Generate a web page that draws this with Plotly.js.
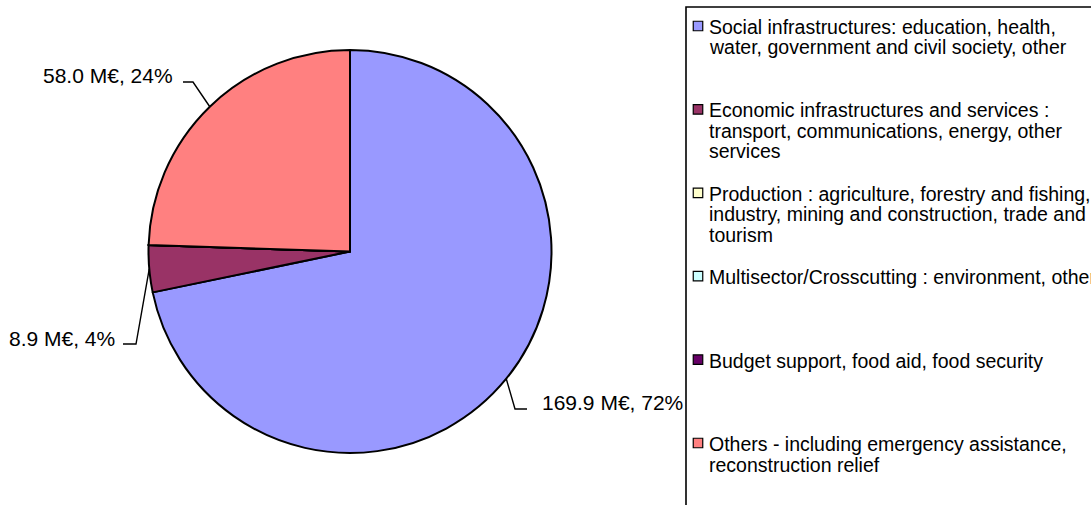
<!DOCTYPE html>
<html>
<head>
<meta charset="utf-8">
<script src="https://cdn.plot.ly/plotly-3.0.1.min.js"></script>
<style>
  html, body { margin: 0; padding: 0; background: #ffffff; }
  #chart { width: 1091px; height: 505px; }
</style>
</head>
<body>
<div id="chart"></div>
<script>
// ---- data ----
const categories = [
  "Social infrastructures: education, health,<br>water, government and civil society, other",
  "Economic infrastructures and services :<br>transport, communications, energy, other<br>services",
  "Production : agriculture, forestry and fishing,<br>industry, mining and construction, trade and<br>tourism",
  "Multisector/Crosscutting : environment, other",
  "Budget support, food aid, food security",
  "Others - including emergency assistance,<br>reconstruction relief"
];
const valuesMEUR = [169.9, 8.9, 0, 0, 0, 58.0];
const sliceColors = ["#9999FF", "#993366", "#FFFFCC", "#CCFFFF", "#660066", "#FF8080"];

// ---- layout constants (pixels) ----
const W = 1091, H = 505;
const pieBox = { x0: 148, x1: 552, y0: 50, y1: 453 };
// label placement: text anchor, elbow of the leader line, side
const labelPlace = {
  0: { tx: 540, ty: 402, ex: 515, ey: 409, hx: 527, side: "left" },
  1: { tx: 117, ty: 338, ex: 136, ey: 344, hx: 123, side: "right" },
  5: { tx: 175, ty: 75, ex: 193, ey: 82, hx: 183, side: "right" }
};
const legendBox = { x0: 686, y0: 7 };
const legendFirstY = 26, legendStep = 83.4, legendLineStep = 20.5;
const legendSymX = 698, legendSym = 9.5, legendTextX = 707;

const px = x => x / W;
const py = y => 1 - y / H;

const total = valuesMEUR.reduce((a, b) => a + b, 0);
const cx = (pieBox.x0 + pieBox.x1) / 2, cy = (pieBox.y0 + pieBox.y1) / 2;
const R = Math.min(pieBox.x1 - pieBox.x0, pieBox.y1 - pieBox.y0) / 2;

const annotations = [];
const shapes = [];

// data labels with leader lines, anchored at slice mid-angle on the rim
let cum = 0;
valuesMEUR.forEach((v, i) => {
  const mid = (cum + v / 2) / total * 2 * Math.PI;
  cum += v;
  if (!labelPlace[i] || v <= 0) return;
  const p = labelPlace[i];
  const rimX = cx + R * Math.sin(mid), rimY = cy - R * Math.cos(mid);
  const pct = Math.round(v / total * 100);
  annotations.push({
    xref: "paper", yref: "paper", x: px(p.tx), y: py(p.ty),
    xanchor: p.side, yanchor: "middle", showarrow: false,
    text: v.toFixed(1) + " M€, " + pct + "%",
    font: { family: "Liberation Sans, Arial, sans-serif", size: 21, color: "#000000" }
  });
  shapes.push({
    type: "path", xref: "paper", yref: "paper",
    path: "M " + px(p.hx) + " " + py(p.ey) + " L " + px(p.ex) + " " + py(p.ey) +
          " L " + px(rimX) + " " + py(rimY),
    line: { color: "#000000", width: 1.4 }
  });
});

// legend frame
shapes.push({
  type: "rect", xref: "paper", yref: "paper",
  x0: px(legendBox.x0), x1: px(W + 20), y0: py(H + 20), y1: py(legendBox.y0),
  line: { color: "#000000", width: 1.6 }, fillcolor: "rgba(0,0,0,0)"
});

// legend entries
categories.forEach((cat, i) => {
  const yc = legendFirstY + i * legendStep;
  shapes.push({
    type: "rect", xref: "paper", yref: "paper",
    x0: px(legendSymX - legendSym / 2), x1: px(legendSymX + legendSym / 2),
    y0: py(yc + legendSym / 2), y1: py(yc - legendSym / 2),
    fillcolor: sliceColors[i], line: { color: "#000000", width: 1.2 }
  });
  cat.split("<br>").forEach((line, j) => {
    annotations.push({
      xref: "paper", yref: "paper", x: px(legendTextX), y: py(yc + j * legendLineStep + 1),
      xanchor: "left", yanchor: "middle", showarrow: false, text: line,
      font: { family: "Liberation Sans, Arial, sans-serif", size: 19.5, color: "#000000" }
    });
  });
});

const trace = {
  type: "pie",
  labels: categories.map(c => c.replace(/<br>/g, " ")),
  values: valuesMEUR,
  sort: false,
  direction: "clockwise",
  rotation: 0,
  textinfo: "none",
  hoverinfo: "label+value+percent",
  marker: { colors: sliceColors, line: { color: "#000000", width: 2 } },
  domain: { x: [px(pieBox.x0), px(pieBox.x1)], y: [py(pieBox.y1), py(pieBox.y0)] }
};

const layout = {
  width: W, height: H,
  margin: { l: 0, r: 0, t: 0, b: 0 },
  paper_bgcolor: "#ffffff",
  showlegend: false,
  font: { family: "Liberation Sans, Arial, sans-serif", color: "#000000" },
  annotations: annotations,
  shapes: shapes
};

Plotly.newPlot("chart", [trace], layout, { displayModeBar: false, staticPlot: true });
</script>
</body>
</html>
